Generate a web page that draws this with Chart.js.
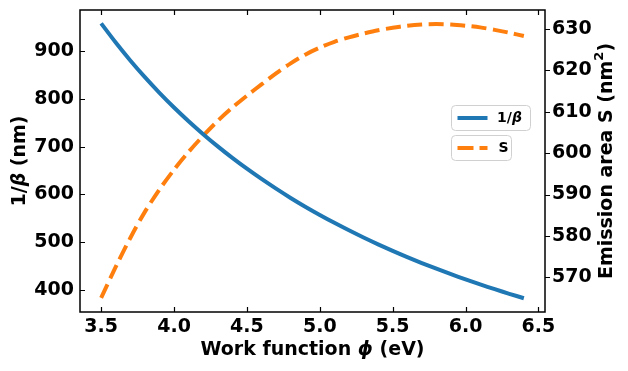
<!DOCTYPE html>
<html>
<head>
<meta charset="utf-8">
<script src="https://cdn.jsdelivr.net/npm/chart.js@4/dist/chart.umd.min.js"></script>
<style>
  html, body { margin: 0; padding: 0; background: #fff; }
  #wrap { width: 628px; height: 371px; }
</style>
</head>
<body>
<div id="wrap"><canvas id="chart" width="628" height="371"></canvas></div>
<script>
// values
const workFunction = [3.5, 3.6, 3.7, 3.8, 3.9, 4.0, 4.1, 4.2, 4.3, 4.4, 4.5, 4.6, 4.7, 4.8, 4.9,
                      5.0, 5.1, 5.2, 5.3, 5.4, 5.5, 5.6, 5.7, 5.8, 5.9, 6.0, 6.1, 6.2, 6.3, 6.4];
const invBeta = [958.0, 917.9, 880.4, 845.4, 812.7, 782.0, 753.3, 726.2, 700.6, 676.5,
                 653.8, 632.4, 612.1, 592.7, 574.4, 557.1, 540.6, 524.9, 509.8, 495.6,
                 482.0, 468.9, 456.5, 444.6, 433.2, 422.3, 411.7, 401.7, 392.1, 382.8];
const emissionArea = [565.0, 572.5, 579.5, 585.8, 591.2, 596.0, 600.3, 604.2, 607.8, 611.0,
                      613.9, 616.6, 619.3, 621.7, 623.8, 625.5, 626.9, 628.0, 628.9, 629.7,
                      630.3, 630.8, 631.1, 631.2, 631.1, 630.8, 630.4, 629.8, 629.1, 628.3];
const xTicks = [3.5, 4.0, 4.5, 5.0, 5.5, 6.0, 6.5];
const leftTicks = [400, 500, 600, 700, 800, 900];
const rightTicks = [570, 580, 590, 600, 610, 620, 630];

const BLUE = '#1f77b4';
const ORANGE = '#ff7f0e';
const FAM = '"DejaVu Sans", sans-serif';
const tickFont = { family: FAM, size: 19, weight: 'bold' };

function points(ys) {
    return workFunction.map((x, i) => ({ x: x, y: ys[i] }));
}

function drawRich(ctx, parts, cx, cy) {
    let total = 0;
    parts.forEach(p => { ctx.font = p.font; p.w = ctx.measureText(p.t).width; total += p.w; });
    let x = cx - total / 2;
    ctx.textBaseline = 'middle';
    ctx.textAlign = 'left';
    parts.forEach(p => {
        ctx.font = p.font;
        ctx.fillText(p.t, x, cy + (p.dy || 0));
        x += p.w;
    });
}

// no extra room for half tick labels, the frame has fixed edges
function noPad(s) {
    s.paddingTop = 0; s.paddingBottom = 0;
    s.paddingLeft = 0; s.paddingRight = 0;
}

const decor = {
    id: 'decor',
    afterDraw(chart) {
        const ctx = chart.ctx;
        const a = chart.chartArea;
        const sx = chart.scales.x, sy = chart.scales.y, sy1 = chart.scales.y1;
        ctx.save();
        ctx.strokeStyle = '#000';
        ctx.fillStyle = '#000';

        // tick marks: inward on left/bottom/top, outward on right
        ctx.lineWidth = 1.2;
        ctx.beginPath();
        xTicks.forEach(v => {
            const px = Math.round(sx.getPixelForValue(v)) + 0.5;
            ctx.moveTo(px, a.bottom); ctx.lineTo(px, a.bottom - 5);
            ctx.moveTo(px, a.top); ctx.lineTo(px, a.top + 5);
        });
        leftTicks.forEach(v => {
            const py = Math.round(sy.getPixelForValue(v)) + 0.5;
            ctx.moveTo(a.left, py); ctx.lineTo(a.left + 5, py);
        });
        rightTicks.forEach(v => {
            const py = Math.round(sy1.getPixelForValue(v)) + 0.5;
            ctx.moveTo(a.right, py); ctx.lineTo(a.right + 5, py);
        });
        ctx.stroke();

        // frame
        ctx.lineWidth = 1.5;
        ctx.strokeRect(a.left, a.top, a.right - a.left, a.bottom - a.top);

        // axis titles
        const b = 'bold 19px ' + FAM;
        const bi = 'italic bold 19px ' + FAM;
        drawRich(ctx, [{ t: 'Work function ', font: b }, { t: 'ϕ', font: bi }, { t: ' (eV)', font: b }],
                 (a.left + a.right) / 2, 350);

        ctx.save();
        ctx.translate(20, (a.top + a.bottom) / 2);
        ctx.rotate(-Math.PI / 2);
        drawRich(ctx, [{ t: '1/', font: b }, { t: 'β', font: bi }, { t: ' (nm)', font: b }], 0, 0);
        ctx.restore();

        ctx.save();
        ctx.translate(607, (a.top + a.bottom) / 2);
        ctx.rotate(-Math.PI / 2);
        drawRich(ctx, [{ t: 'Emission area S (nm', font: b },
                       { t: '2', font: 'bold 13px ' + FAM, dy: -7 },
                       { t: ')', font: b }], 0, 0);
        ctx.restore();

        // two legend boxes, as matplotlib draws one per axis
        const ds = chart.data.datasets;
        const boxes = [
            { x: 451.5, y: 105.5, w: 79, h: 25, ds: ds[0], dash: [] },
            { x: 451.5, y: 135.5, w: 60, h: 25, ds: ds[1], dash: [16, 6] }
        ];
        boxes.forEach(bx => {
            ctx.beginPath();
            ctx.roundRect(bx.x, bx.y, bx.w, bx.h, 4);
            ctx.fillStyle = 'rgba(255,255,255,0.8)';
            ctx.fill();
            ctx.strokeStyle = '#d0d0d0';
            ctx.lineWidth = 1;
            ctx.stroke();

            const ly = bx.y + bx.h / 2;
            ctx.beginPath();
            ctx.setLineDash(bx.dash);
            ctx.strokeStyle = bx.ds.borderColor;
            ctx.lineWidth = 4;
            ctx.moveTo(bx.x + 6, ly);
            ctx.lineTo(bx.x + 36, ly);
            ctx.stroke();
            ctx.setLineDash([]);

            ctx.fillStyle = '#000';
            if (bx.ds.label === '1/β') {
                drawRich(ctx, [{ t: '1/', font: 'bold 14px ' + FAM }, { t: 'β', font: 'italic bold 14px ' + FAM }],
                         bx.x + 58, ly);
            } else {
                ctx.font = 'bold 14px ' + FAM;
                ctx.textBaseline = 'middle';
                ctx.fillText(bx.ds.label, bx.x + 47, ly);
            }
        });
        ctx.restore();
    }
};

const ctx = document.getElementById('chart');
const chart = new Chart(ctx, {
    type: 'line',
    data: {
        datasets: [{
            label: '1/β',
            data: points(invBeta),
            yAxisID: 'y',
            borderColor: BLUE,
            borderWidth: 4,
            pointRadius: 0,
            tension: 0.3,
            fill: false
        }, {
            label: 'S',
            data: points(emissionArea),
            yAxisID: 'y1',
            borderColor: ORANGE,
            borderWidth: 4,
            borderDash: [15, 6.5],
            borderCapStyle: 'butt',
            pointRadius: 0,
            tension: 0.3,
            fill: false
        }]
    },
    options: {
        responsive: false,
        animation: false,
        devicePixelRatio: 1,
        layout: { padding: { top: 10, left: 0, right: 0, bottom: 0 } },
        plugins: {
            legend: { display: false },
            tooltip: { enabled: false }
        },
        scales: {
            x: {
                type: 'linear',
                min: 3.355,
                max: 6.545,
                afterBuildTicks: s => { s.ticks = xTicks.map(v => ({ value: v })); },
                afterFit: s => { s.height = 59; noPad(s); },
                grid: { display: false, drawTicks: false },
                border: { display: false },
                ticks: {
                    font: tickFont, color: '#000', padding: 4,
                    maxRotation: 0, autoSkip: false,
                    callback: v => v.toFixed(1)
                }
            },
            y: {
                type: 'linear',
                position: 'left',
                min: 354,
                max: 986,
                afterBuildTicks: s => { s.ticks = leftTicks.map(v => ({ value: v })); },
                afterFit: s => { s.width = 80; noPad(s); },
                grid: { display: false, drawTicks: false },
                border: { display: false },
                ticks: { font: tickFont, color: '#000', padding: 6 }
            },
            y1: {
                type: 'linear',
                position: 'right',
                min: 561.6,
                max: 634.6,
                afterBuildTicks: s => { s.ticks = rightTicks.map(v => ({ value: v })); },
                afterFit: s => { s.width = 83; noPad(s); },
                grid: { display: false, drawTicks: false },
                border: { display: false },
                ticks: { font: tickFont, color: '#000', padding: 7 }
            }
        }
    },
    plugins: [decor]
});
</script>
</body>
</html>
